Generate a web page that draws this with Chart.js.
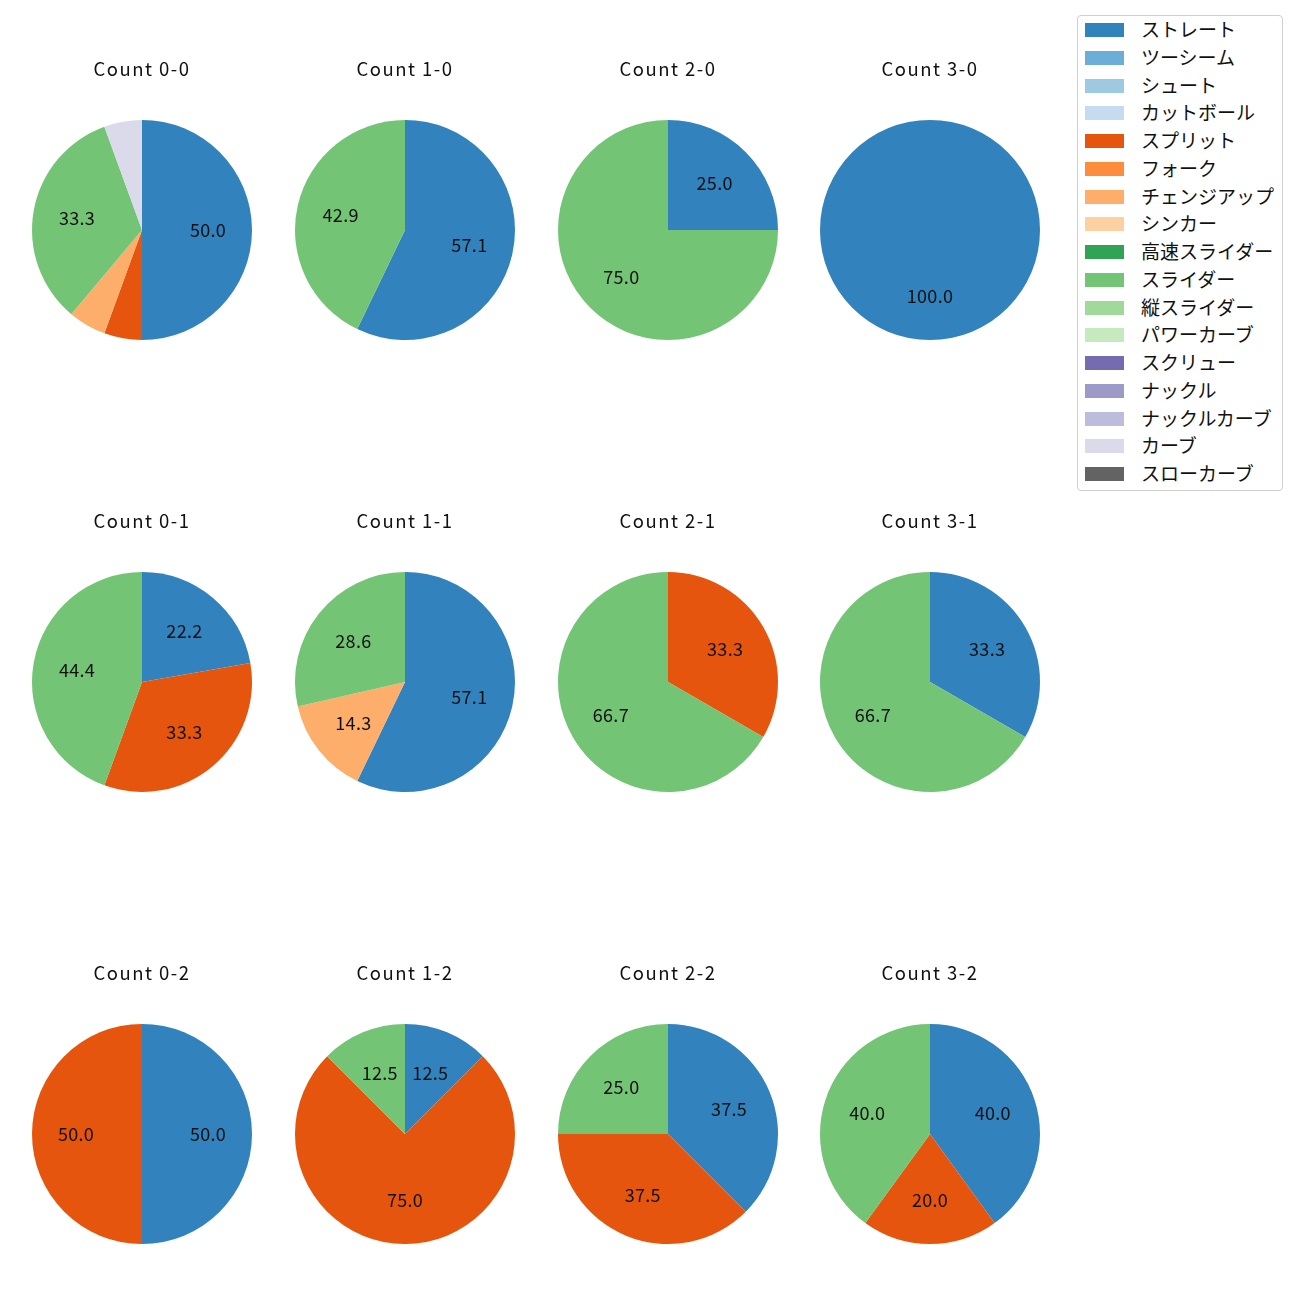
<!DOCTYPE html>
<html>
<head>
<meta charset="utf-8">
<script src="https://cdn.jsdelivr.net/npm/chart.js@4/dist/chart.umd.min.js"></script>
<style>
  body { margin: 0; background: #fff; font-family: "Noto Sans CJK JP", sans-serif; }
  #wrap { position: relative; width: 1300px; height: 1300px; }
  canvas.pie { position: absolute; }
  #legend { position: absolute; left: 1077px; top: 15px; width: 204px; height: 474px;
            border: 1px solid #cfcfcf; border-radius: 4px; background: #fff; }
  .sw { position: absolute; left: 7px; width: 39px; height: 14px; }
  .lb { position: absolute; left: 63px; font-size: 19px; white-space: nowrap; color: #111; line-height: 22px; }
</style>
</head>
<body>
<div id="wrap">
  <div id="legend"></div>
</div>
<script>
const pitchTypes = ['ストレート','ツーシーム','シュート','カットボール','スプリット','フォーク','チェンジアップ','シンカー',
  '高速スライダー','スライダー','縦スライダー','パワーカーブ','スクリュー','ナックル','ナックルカーブ','カーブ','スローカーブ'];
const colors = ['#3182bd','#6baed6','#9ecae1','#c6dbef','#e6550d','#fd8d3c','#fdae6b','#fdd0a2',
  '#31a354','#74c476','#a1d99b','#c7e9c0','#756bb1','#9e9ac8','#bcbddc','#dadaeb','#636363'];

const countLabels = ['0-0','1-0','2-0','3-0','0-1','1-1','2-1','3-1','0-2','1-2','2-2','3-2'];

// pitch counts per ball-strike count, same order as pitchTypes
const c00 = [9,0,0,0,1,0,1,0,0,6,0,0,0,0,0,1,0];
const c10 = [4,0,0,0,0,0,0,0,0,3,0,0,0,0,0,0,0];
const c20 = [1,0,0,0,0,0,0,0,0,3,0,0,0,0,0,0,0];
const c30 = [1,0,0,0,0,0,0,0,0,0,0,0,0,0,0,0,0];
const c01 = [2,0,0,0,3,0,0,0,0,4,0,0,0,0,0,0,0];
const c11 = [4,0,0,0,0,0,1,0,0,2,0,0,0,0,0,0,0];
const c21 = [0,0,0,0,1,0,0,0,0,2,0,0,0,0,0,0,0];
const c31 = [1,0,0,0,0,0,0,0,0,2,0,0,0,0,0,0,0];
const c02 = [1,0,0,0,1,0,0,0,0,0,0,0,0,0,0,0,0];
const c12 = [1,0,0,0,6,0,0,0,0,1,0,0,0,0,0,0,0];
const c22 = [3,0,0,0,3,0,0,0,0,2,0,0,0,0,0,0,0];
const c32 = [2,0,0,0,1,0,0,0,0,2,0,0,0,0,0,0,0];
const countData = [c00,c10,c20,c30,c01,c11,c21,c31,c02,c12,c22,c32];

const colX = [142, 405, 668, 930];
const rowTitleY = [69, 521, 973];

// wider title lettering
const spacing = {
  id: 'spacing',
  beforeDraw(chart) { chart.ctx.letterSpacing = '1.5px'; }
};

// percentage text at 0.6 radius, like autopct
const pctLabels = {
  id: 'pctLabels',
  afterDatasetsDraw(chart) {
    const ctx = chart.ctx;
    const meta = chart.getDatasetMeta(0);
    const vals = chart.data.datasets[0].data;
    const total = vals.reduce((a, b) => a + b, 0);
    ctx.save();
    ctx.letterSpacing = '0.3px';
    ctx.font = '18px "Noto Sans CJK JP"';
    ctx.fillStyle = '#111';
    ctx.textAlign = 'center';
    ctx.textBaseline = 'middle';
    meta.data.forEach((arc, i) => {
      const pct = vals[i] / total * 100;
      if (pct < 10) return;
      const p = arc.getProps(['x','y','startAngle','endAngle','outerRadius']);
      const mid = (p.startAngle + p.endAngle) / 2;
      const r = p.outerRadius * 0.6;
      ctx.fillText(pct.toFixed(1), p.x + Math.cos(mid) * r, p.y + Math.sin(mid) * r);
    });
    ctx.restore();
  }
};

const wrap = document.getElementById('wrap');
countLabels.forEach((lbl, k) => {
  const col = k % 4, row = Math.floor(k / 4);
  const cv = document.createElement('canvas');
  cv.className = 'pie';
  cv.width = 240; cv.height = 300;
  cv.style.width = '240px'; cv.style.height = '300px';
  cv.style.left = (colX[col] - 120) + 'px';
  cv.style.top = (rowTitleY[row] - 14) + 'px';
  wrap.appendChild(cv);
  new Chart(cv, {
    type: 'pie',
    data: {
      labels: pitchTypes,
      datasets: [{ data: countData[k], backgroundColor: colors, borderWidth: 0 }]
    },
    options: {
      responsive: false,
      animation: false,
      devicePixelRatio: 1,
      layout: { padding: { left: 10, right: 10, bottom: 15 } },
      plugins: {
        legend: { display: false },
        tooltip: { enabled: false },
        title: {
          display: true, text: 'Count ' + lbl, color: '#111',
          font: { family: '"Noto Sans CJK JP"', size: 18.5, weight: 'normal', lineHeight: 1.0 },
          padding: { top: 5, bottom: 41.5 }
        }
      }
    },
    plugins: [spacing, pctLabels]
  });
});

const legend = document.getElementById('legend');
pitchTypes.forEach((name, i) => {
  const cy = 14 + i * 27.75;
  const sw = document.createElement('div');
  sw.className = 'sw';
  sw.style.top = (cy - 7) + 'px';
  sw.style.background = colors[i];
  const lb = document.createElement('div');
  lb.className = 'lb';
  lb.style.top = (cy - 12) + 'px';
  lb.textContent = name;
  legend.appendChild(sw);
  legend.appendChild(lb);
});
</script>
</body>
</html>
